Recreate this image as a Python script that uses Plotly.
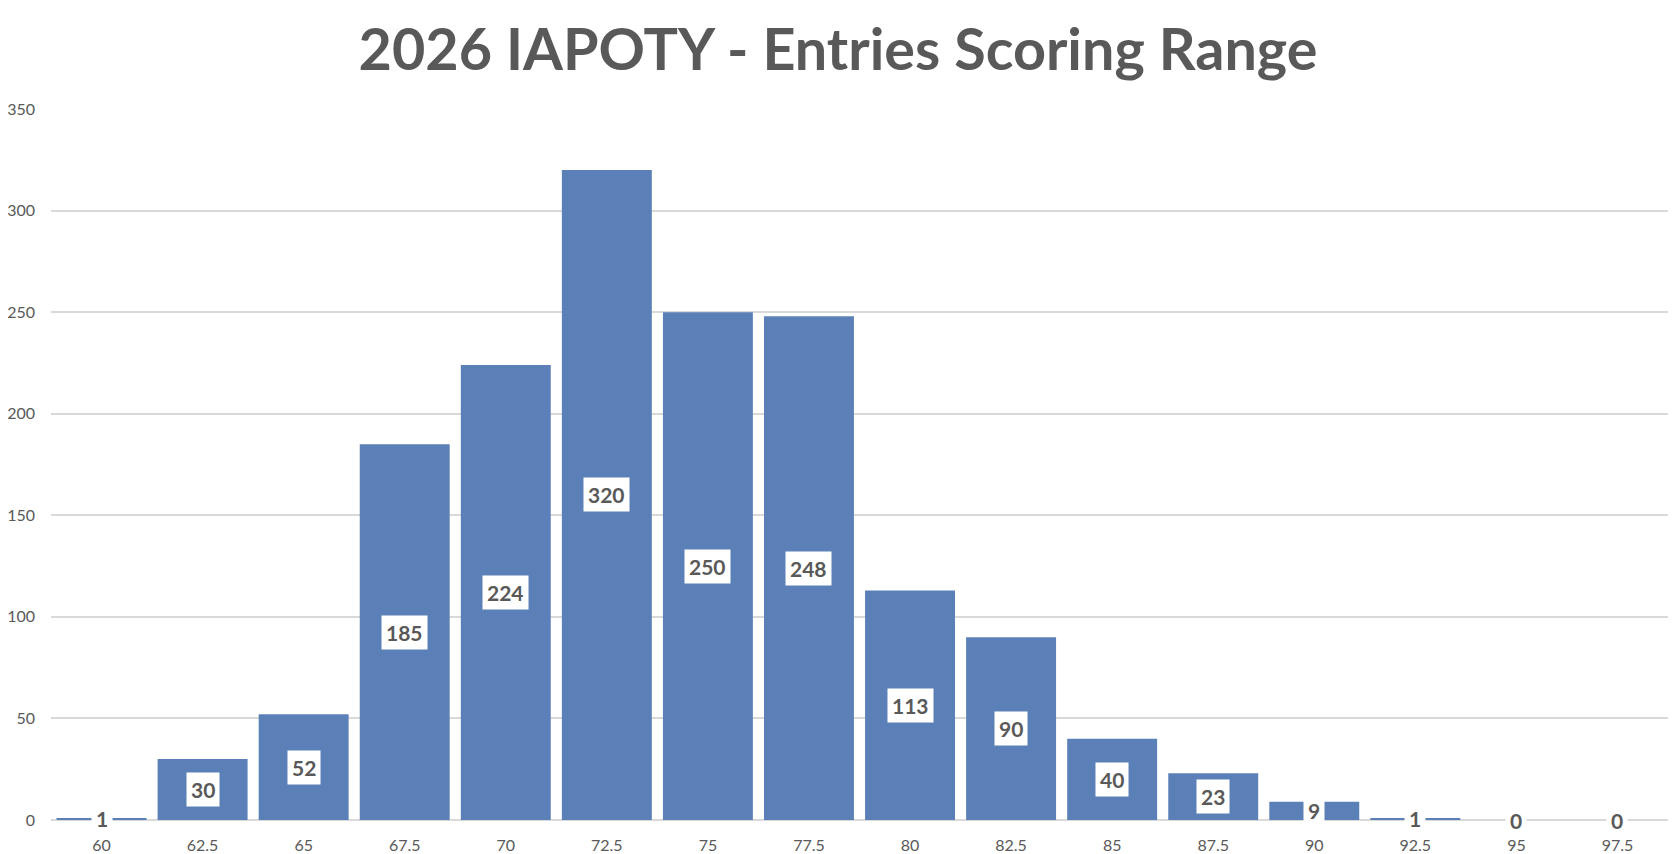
import plotly.graph_objects as go

# score buckets and number of entries in each
scores = [60, 62.5, 65, 67.5, 70, 72.5, 75, 77.5,
          80, 82.5, 85, 87.5, 90, 92.5, 95, 97.5]
score_labels = ["60", "62.5", "65", "67.5", "70", "72.5", "75", "77.5",
                "80", "82.5", "85", "87.5", "90", "92.5", "95", "97.5"]
entries = [1, 30, 52, 185, 224, 320, 250, 248, 113, 90, 40, 23, 9, 1, 0, 0]

TEXT_COLOR = "#595959"
BAR_COLOR = "#5b80b8"
FONT = "Lato"
STEP = 2.5

fig = go.Figure(go.Bar(
    x=scores,
    y=entries,
    width=STEP * 0.89,
    marker=dict(color=BAR_COLOR, line=dict(width=0)),
    hoverinfo="x+y",
))

# value labels sit in the middle of each bar on a white box
for s, v in zip(scores, entries):
    fig.add_annotation(
        x=s, y=v / 2, text=str(v), showarrow=False,
        font=dict(family=FONT, size=21, color=TEXT_COLOR, weight="bold"),
        bgcolor="white", borderpad=4,
    )

fig.update_layout(
    width=1676, height=854,
    paper_bgcolor="white", plot_bgcolor="white",
    margin=dict(l=51, r=8, t=109, b=34),
    showlegend=False,
    font=dict(family=FONT, color=TEXT_COLOR, size=16),
    title=dict(
        text="2026 IAPOTY - Entries Scoring Range",
        x=0.5, xanchor="center", y=0.942, yanchor="middle",
        font=dict(family=FONT, size=57.5, color=TEXT_COLOR, weight="bold"),
    ),
    xaxis=dict(
        range=[scores[0] - STEP / 2, scores[-1] + STEP / 2],
        tickvals=scores, ticktext=score_labels,
        showgrid=False,
        showline=False,
        zeroline=False,
        ticks="",
        automargin=False,
        ticklabelstandoff=14,
        tickfont=dict(size=16, color=TEXT_COLOR),
    ),
    yaxis=dict(
        range=[0, 350],
        tick0=0, dtick=50,
        showgrid=True, gridcolor="#d9d9d9", gridwidth=1.5,
        zeroline=True, zerolinecolor="#d9d9d9", zerolinewidth=1.5,
        showline=False,
        ticks="",
        automargin=False,
        ticklabelstandoff=15,
        tickfont=dict(size=16, color=TEXT_COLOR),
    ),
)

# drop the default page margin so the figure sits at the window corner
fig.write_html("out.html", config={"displayModeBar": False},
               post_script="document.body.style.margin = '0';")
